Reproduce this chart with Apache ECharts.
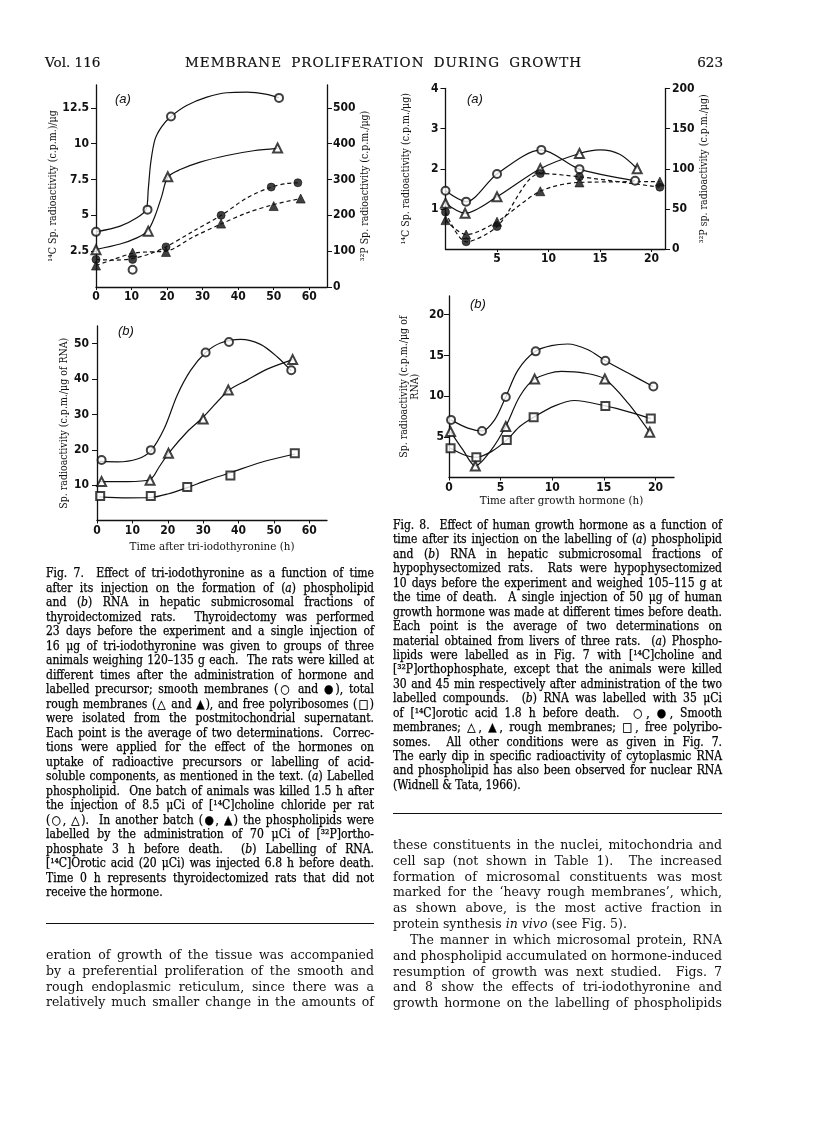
<!DOCTYPE html>
<html>
<head>
<meta charset="utf-8">
<script src="https://cdn.jsdelivr.net/npm/echarts@6/dist/echarts.min.js"></script>
<style>
html,body{margin:0;padding:0;background:#fff;}
#page{position:relative;width:816px;height:1136px;overflow:hidden;background:#fff;color:#111;}
#chart{position:absolute;left:0;top:0;width:816px;height:1136px;}
.txt{position:absolute;font-family:"DejaVu Serif",serif;color:#111;}
.ln{white-space:nowrap;text-align:justify;text-align-last:justify;}
.ln.end{text-align-last:left;}
.measure .ln{text-align:left;text-align-last:left;}
.cap{font-family:"DejaVu Serif Condensed","DejaVu Serif",serif;font-size:12px;line-height:14.5px;color:#000;-webkit-text-stroke:0.25px #000;}
.body{font-size:12.5px;line-height:15.83px;}
.head{font-size:13.5px;line-height:16px;-webkit-text-stroke:0.2px #111;}
.rule{position:absolute;height:0;border-top:1.5px solid #111;}
</style>
</head>
<body>
<div id="page">
  <div id="chart"></div>

  <div class="txt head" style="left:45px;top:54px">Vol. 116</div>
  <div class="txt ln head" style="left:185px;top:54px;width:397px;letter-spacing:1px">MEMBRANE PROLIFERATION DURING GROWTH</div>
  <div class="txt head" style="left:683px;top:54px;width:40px;text-align:right">623</div>

  <div class="txt cap" style="left:46px;top:566px;width:328px">
    <div class="ln">Fig. 7.&nbsp; Effect of tri-iodothyronine as a function of time</div>
    <div class="ln">after its injection on the formation of (<i>a</i>) phospholipid</div>
    <div class="ln">and (<i>b</i>) RNA in hepatic submicrosomal fractions of</div>
    <div class="ln">thyroidectomized rats.&nbsp; Thyroidectomy was performed</div>
    <div class="ln">23 days before the experiment and a single injection of</div>
    <div class="ln">16 μg of tri-iodothyronine was given to groups of three</div>
    <div class="ln">animals weighing 120–135 g each.&nbsp; The rats were killed at</div>
    <div class="ln">different times after the administration of hormone and</div>
    <div class="ln">labelled precursor; smooth membranes (○ and ●), total</div>
    <div class="ln">rough membranes (△ and ▲), and free polyribosomes (□)</div>
    <div class="ln">were isolated from the postmitochondrial supernatant.</div>
    <div class="ln">Each point is the average of two determinations.&nbsp; Correc-</div>
    <div class="ln">tions were applied for the effect of the hormones on</div>
    <div class="ln">uptake of radioactive precursors or labelling of acid-</div>
    <div class="ln">soluble components, as mentioned in the text. (<i>a</i>) Labelled</div>
    <div class="ln">phospholipid.&nbsp; One batch of animals was killed 1.5 h after</div>
    <div class="ln">the injection of 8.5 μCi of [¹⁴C]choline chloride per rat</div>
    <div class="ln">(○, △).&nbsp; In another batch (●, ▲) the phospholipids were</div>
    <div class="ln">labelled by the administration of 70 μCi of [³²P]ortho-</div>
    <div class="ln">phosphate 3 h before death.&nbsp; (<i>b</i>) Labelling of RNA.</div>
    <div class="ln">[¹⁴C]Orotic acid (20 μCi) was injected 6.8 h before death.</div>
    <div class="ln">Time 0 h represents thyroidectomized rats that did not</div>
    <div class="ln end">receive the hormone.</div>
  </div>

  <div class="txt cap" style="left:393px;top:518px;width:329px;line-height:14.44px">
    <div class="ln">Fig. 8.&nbsp; Effect of human growth hormone as a function of</div>
    <div class="ln">time after its injection on the labelling of (<i>a</i>) phospholipid</div>
    <div class="ln">and (<i>b</i>) RNA in hepatic submicrosomal fractions of</div>
    <div class="ln">hypophysectomized rats.&nbsp; Rats were hypophysectomized</div>
    <div class="ln">10 days before the experiment and weighed 105–115 g at</div>
    <div class="ln">the time of death.&nbsp; A single injection of 50 μg of human</div>
    <div class="ln">growth hormone was made at different times before death.</div>
    <div class="ln">Each point is the average of two determinations on</div>
    <div class="ln">material obtained from livers of three rats.&nbsp; (<i>a</i>) Phospho-</div>
    <div class="ln">lipids were labelled as in Fig. 7 with [¹⁴C]choline and</div>
    <div class="ln">[³²P]orthophosphate, except that the animals were killed</div>
    <div class="ln">30 and 45 min respectively after administration of the two</div>
    <div class="ln">labelled compounds.&nbsp; (<i>b</i>) RNA was labelled with 35 μCi</div>
    <div class="ln">of [¹⁴C]orotic acid 1.8 h before death.&nbsp; ○, ●, Smooth</div>
    <div class="ln">membranes; △, ▲, rough membranes; □, free polyribo-</div>
    <div class="ln">somes.&nbsp; All other conditions were as given in Fig. 7.</div>
    <div class="ln">The early dip in specific radioactivity of cytoplasmic RNA</div>
    <div class="ln">and phospholipid has also been observed for nuclear RNA</div>
    <div class="ln end">(Widnell &amp; Tata, 1966).</div>
  </div>

  <div class="rule" style="left:46px;top:923px;width:328px"></div>
  <div class="rule" style="left:393px;top:813px;width:329px"></div>

  <div class="txt body" style="left:46px;top:947px;width:328px">
    <div class="ln">eration of growth of the tissue was accompanied</div>
    <div class="ln">by a preferential proliferation of the smooth and</div>
    <div class="ln">rough endoplasmic reticulum, since there was a</div>
    <div class="ln">relatively much smaller change in the amounts of</div>
  </div>

  <div class="txt body" style="left:393px;top:837px;width:329px">
    <div class="ln">these constituents in the nuclei, mitochondria and</div>
    <div class="ln">cell sap (not shown in Table 1).&nbsp; The increased</div>
    <div class="ln">formation of microsomal constituents was most</div>
    <div class="ln">marked for the ‘heavy rough membranes’, which,</div>
    <div class="ln">as shown above, is the most active fraction in</div>
    <div class="ln end">protein synthesis <i>in vivo</i> (see Fig. 5).</div>
    <div class="ln" style="padding-left:17px">The manner in which microsomal protein, RNA</div>
    <div class="ln">and phospholipid accumulated on hormone-induced</div>
    <div class="ln">resumption of growth was next studied.&nbsp; Figs. 7</div>
    <div class="ln">and 8 show the effects of tri-iodothyronine and</div>
    <div class="ln">growth hormone on the labelling of phospholipids</div>
  </div>
</div>

<script>
// Fig. 7(a): time after tri-iodothyronine (h) vs. 14C (left) and 32P (right) sp. radioactivity
var f7aSmooth14C = [[0,3.85],[14.5,5.4],[21.1,11.9],[51.5,13.2]];
var f7aStray14C = [[10.3,1.2]];
var f7aRough14C = [[0,2.6],[14.7,3.9],[20.2,7.7],[51.1,9.7]];
var f7aSmooth32P = [[0,77],[10.3,77],[19.7,112],[35.2,200],[49.3,279],[56.8,291]];
var f7aRough32P = [[0,60],[10.3,96],[19.7,98],[35.2,177],[50,226],[57.6,247]];
// hand drawn curves
var f7aSmooth14CCurve = [[0,3.85],[6.8,4.25],[11.5,4.83],[14.1,5.41],[14.7,6.8],[15.4,8.67],[16.6,10.3],[18.5,11.2],[21.1,11.9],[25.5,12.67],[31.2,13.25],[36.8,13.56],[42.5,13.6],[48.1,13.44],[51.5,13.2]];
var f7aRough14CCurve = [[0,2.62],[6.8,3.0],[11.5,3.43],[14.5,3.9],[16.6,4.95],[18.5,6.34],[20.2,7.67],[23.7,8.2],[29.3,8.72],[36.8,9.18],[44.3,9.51],[51.1,9.67]];
var f7aSmooth32PCurve = [[0,77],[4.9,75],[10.3,79],[15.2,93],[19.7,112],[27.4,156],[35.2,200],[42.5,249],[49.3,279],[53.7,289],[56.8,291]];
var f7aRough32PCurve = [[0,60],[4.9,77],[10.3,94],[14.8,98],[19.7,100],[27.4,140],[35.2,176],[42.5,207],[49.9,230],[57.6,247]];

// Fig. 7(b): RNA sp. radioactivity (c.p.m./ug of RNA)
var f7bSmooth = [[1.3,17.1],[15.2,19.9],[30.7,47.5],[37.3,50.5],[54.9,42.5]];
var f7bRough = [[1.3,11.0],[15.0,11.4],[20.2,19.0],[30.0,28.7],[37.1,36.9],[55.3,45.5]];
var f7bFree = [[0.9,6.9],[15.2,6.9],[25.5,9.5],[37.7,12.7],[55.9,19.0]];
var f7bSmoothCurve = [[0.65,16.7],[5.8,16.6],[11.4,17.4],[15.2,19.7],[19.0,26.0],[22.7,35.5],[26.5,42.5],[30.7,47.5],[34.9,50.2],[40.6,51.2],[46.2,49.8],[50.9,46.3],[54.9,42.3]];
var f7bRoughCurve = [[0.65,11.0],[8.6,11.0],[15.0,11.6],[17.6,15.2],[20.2,19.0],[25.5,25.1],[30.0,29.2],[37.1,36.7],[42.4,39.7],[48.1,42.8],[55.3,45.5]];
var f7bFreeCurve = [[0.65,6.7],[8.6,6.4],[15.2,6.5],[20.0,7.5],[25.5,9.3],[31.2,11.4],[37.7,13.5],[46.2,16.4],[55.9,18.8]];

// Fig. 8(a): time after growth hormone (h)
var f8aSmooth14C = [[0,1.45],[2,1.18],[5,1.87],[9.3,2.47],[13,1.99],[18.4,1.7]];
var f8aRough14C = [[0,1.14],[1.9,0.89],[5,1.3],[9.2,2.0],[13,2.38],[18.6,2.0]];
var f8aSmooth32P = [[0,46],[2,9],[5,28],[9.2,94],[13,90],[20.8,77]];
var f8aRough32P = [[0,36],[2,18],[5,34],[9.2,72],[13,83],[20.8,84]];
var f8aRough14CCurve = [[0,1.14],[1.9,0.89],[5,1.3],[9.2,2.0],[13,2.38],[15,2.47],[16.9,2.36],[18.6,2.0]];

// Fig. 8(b)
var f8bSmooth = [[0.2,7.08],[3.2,5.72],[5.5,9.88],[8.4,15.5],[15.15,14.35],[19.8,11.18]];
var f8bRough = [[0.15,5.64],[2.55,1.42],[5.5,6.26],[8.3,12.09],[15.1,12.1],[19.45,5.56]];
var f8bFree = [[0.15,3.6],[2.65,2.49],[5.6,4.62],[8.2,7.41],[15.15,8.8],[19.55,7.24]];
var f8bSmoothCurve = [[0.2,7.08],[1.83,6.06],[3.2,5.72],[4.42,7.08],[5.49,9.88],[6.68,13.2],[8.37,15.5],[9.92,16.2],[11.5,16.4],[13.47,15.7],[15.15,14.35],[17.35,12.83],[19.77,11.18]];
var f8bRoughCurve = [[0.15,5.64],[1.35,3.39],[2.55,1.42],[4.1,3.39],[5.49,6.26],[6.85,9.95],[8.3,12.09],[10.9,13.03],[13.15,12.83],[15.1,12.1],[17.35,9.14],[19.45,5.56]];
var f8bFreeCurve = [[0.15,3.6],[1.5,2.77],[2.64,2.49],[4.1,3.18],[5.62,4.62],[6.85,6.26],[8.2,7.41],[10.24,8.8],[12.17,9.46],[15.15,8.8],[17.67,7.98],[19.55,7.24]];

// tick labels
var f7xTicks = [0,10,20,30,40,50,60];
var f7a14CTicks = [2.5,5,7.5,10,12.5];
var f7a32PTicks = [0,100,200,300,400,500];
var f7bTicks = [10,20,30,40,50];
var f8axTicks = [5,10,15,20];
var f8a14CTicks = [1,2,3,4];
var f8a32PTicks = [0,50,100,150,200];
var f8bxTicks = [0,5,10,15,20];
var f8bTicks = [5,10,15,20];

var INK = '#111';
var tickFont = {fontFamily:'"Liberation Sans Narrow","DejaVu Sans Condensed",sans-serif', fontSize:12, fontWeight:'bold', color:INK};
var nameFont = {fontFamily:'"DejaVu Serif Condensed","DejaVu Serif",serif', fontSize:10.5, color:INK};

function xAx(grid, max, ticks, name, gap){
    return {
        type:'value', gridIndex:grid, min:0, max:max,
        splitLine:{show:false},
        axisLine:{lineStyle:{color:INK, width:1.3}},
        axisTick:{customValues:ticks, length:3, lineStyle:{color:INK}},
        axisLabel:Object.assign({customValues:ticks, margin:4}, tickFont),
        name:name || '', nameLocation:'middle', nameGap:gap || 20,
        nameTextStyle:{fontFamily:nameFont.fontFamily, fontSize:11.5, color:INK}
    };
}
function yAx(grid, max, ticks, pos, name, gap, margin){
    return {
        type:'value', gridIndex:grid, min:0, max:max, position:pos,
        splitLine:{show:false},
        axisLine:{show:true, lineStyle:{color:INK, width:1.3}},
        axisTick:{show:true, customValues:ticks, length:5, lineStyle:{color:INK}},
        axisLabel:Object.assign({customValues:ticks, margin:margin}, tickFont),
        name:name, nameLocation:'middle', nameGap:gap, nameRotate:90,
        nameTextStyle:nameFont
    };
}
function curve(data, xi, yi, dashed){
    return {type:'line', xAxisIndex:xi, yAxisIndex:yi, data:data, smooth:0.3,
        showSymbol:false, silent:true, z:2,
        lineStyle:{color:INK, width:1.2, type:dashed ? [4,3] : 'solid'}};
}
function marks(data, xi, yi, symbol, size){
    return {type:'scatter', xAxisIndex:xi, yAxisIndex:yi, data:data, symbol:symbol,
        symbolSize:size, z:3, itemStyle:{color:INK, borderColor:INK, borderWidth:0.8}};
}

var chart = echarts.init(document.getElementById('chart'));
chart.setOption({
    animation:false,
    backgroundColor:'transparent',
    grid:[
        {left:96, top:85, width:231, height:202},
        {left:97, top:326, width:230, height:194.5},
        {left:445.5, top:88.5, width:219.5, height:160.5},
        {left:449, top:296, width:225, height:181.5}
    ],
    xAxis:[
        xAx(0, 65, f7xTicks),
        xAx(1, 65, f7xTicks, 'Time after tri-iodothyronine (h)', 21),
        xAx(2, 21.3, f8axTicks),
        xAx(3, 21.8, f8bxTicks, 'Time after growth hormone (h)', 18)
    ],
    yAxis:[
        yAx(0, 14.1, f7a14CTicks, 'left', '¹⁴C Sp. radioactivity (c.p.m.)/μg', 28, 7),
        yAx(0, 564, f7a32PTicks, 'right', '³²P Sp. radioactivity (c.p.m./μg)', 30, 6),
        yAx(1, 55, f7bTicks, 'left', 'Sp. radioactivity (c.p.m./μg of RNA)', 23, 8),
        yAx(2, 4, f8a14CTicks, 'left', '¹⁴C Sp. radioactivity (c.p.m./μg)', 34, 7),
        yAx(2, 200, f8a32PTicks, 'right', '³²P sp. radioactivity (c.p.m./μg)', 31, 7),
        yAx(3, 22.3, f8bTicks, 'left', 'Sp. radioactivity (c.p.m./μg of\nRNA)', 28, 5)
    ],
    graphic:[
        {type:'text', left:115, top:93, style:{text:'(a)', font:'italic 13px "Liberation Sans", sans-serif', fill:INK}},
        {type:'text', left:118, top:325, style:{text:'(b)', font:'italic 13px "Liberation Sans", sans-serif', fill:INK}},
        {type:'text', left:467, top:93, style:{text:'(a)', font:'italic 13px "Liberation Sans", sans-serif', fill:INK}},
        {type:'text', left:470, top:298, style:{text:'(b)', font:'italic 13px "Liberation Sans", sans-serif', fill:INK}}
    ],
    series:[
        curve(f7aSmooth14CCurve, 0, 0),
        curve(f7aRough14CCurve, 0, 0),
        curve(f7aSmooth32PCurve, 0, 1, true),
        curve(f7aRough32PCurve, 0, 1, true),
        marks(f7aSmooth14C, 0, 0, 'emptyCircle', 8),
        marks(f7aStray14C, 0, 0, 'emptyCircle', 8),
        marks(f7aRough14C, 0, 0, 'emptyTriangle', 9),
        marks(f7aSmooth32P, 0, 1, 'circle', 8),
        marks(f7aRough32P, 0, 1, 'triangle', 9),

        curve(f7bSmoothCurve, 1, 2),
        curve(f7bRoughCurve, 1, 2),
        curve(f7bFreeCurve, 1, 2),
        marks(f7bSmooth, 1, 2, 'emptyCircle', 8),
        marks(f7bRough, 1, 2, 'emptyTriangle', 9),
        marks(f7bFree, 1, 2, 'emptyRect', 8),

        curve(f8aSmooth14C, 2, 3),
        curve(f8aRough14CCurve, 2, 3),
        curve(f8aSmooth32P, 2, 4, true),
        curve(f8aRough32P, 2, 4, true),
        marks(f8aSmooth14C, 2, 3, 'emptyCircle', 8),
        marks(f8aRough14C, 2, 3, 'emptyTriangle', 9),
        marks(f8aSmooth32P, 2, 4, 'circle', 8),
        marks(f8aRough32P, 2, 4, 'triangle', 9),

        curve(f8bSmoothCurve, 3, 5),
        curve(f8bRoughCurve, 3, 5),
        curve(f8bFreeCurve, 3, 5),
        marks(f8bSmooth, 3, 5, 'emptyCircle', 8),
        marks(f8bRough, 3, 5, 'emptyTriangle', 9),
        marks(f8bFree, 3, 5, 'emptyRect', 8)
    ]
});

// squeeze any justified line that is wider than its column
var page = document.getElementById('page');
page.classList.add('measure');
var lines = document.querySelectorAll('.ln');
var fixes = [];
for (var i = 0; i < lines.length; i++) {
    var el = lines[i];
    var span = document.createElement('span');
    while (el.firstChild) span.appendChild(el.firstChild);
    el.appendChild(span);
    var avail = el.clientWidth - (parseFloat(el.style.paddingLeft) || 0);
    var w = span.getBoundingClientRect().width;
    if (w > avail) fixes.push([el, (avail - w) / el.textContent.length - 0.05]);
}
page.classList.remove('measure');
fixes.forEach(function(f){ f[0].style.letterSpacing = f[1] + 'px'; });
</script>
</body>
</html>
